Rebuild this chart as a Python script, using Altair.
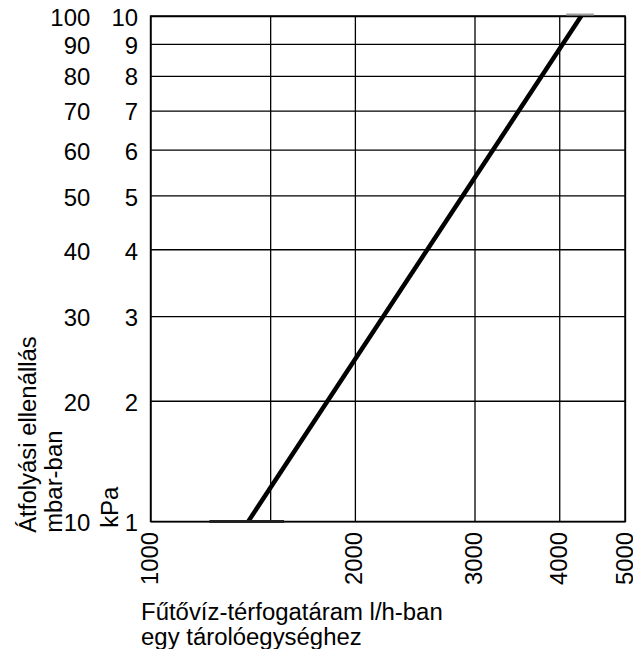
import altair as alt
import pandas as pd

# ---- data ----
flow_lh = [1393, 4310]          # x: heating-water flow, l/h
drop_mbar = [10, 100]           # y: pressure drop, mbar
y_ticks = [10, 20, 30, 40, 50, 60, 70, 80, 90, 100]
x_ticks = [1000, 1500, 2000, 3000, 4000, 5000]
x_title = ["Fűtővíz-térfogatáram l/h-ban", "egy tárolóegységhez"]
y_title_mbar = ["Átfolyási ellenállás", "mbar-ban"]
y_title_kpa = "kPa"
# small stray segments along the frame in the original drawing
seg_bottom_x = [1221, 1573]
seg_bottom_y = [10]
seg_top_x = [4095, 4500]
seg_top_y = [100]

FONT = "Liberation Sans"
FS = 24

line_df = pd.DataFrame({"flow": flow_lh, "drop": drop_mbar})
segb_df = pd.DataFrame({"flow": [seg_bottom_x[0]], "flow2": [seg_bottom_x[1]], "drop": seg_bottom_y})
segt_df = pd.DataFrame({"flow": [seg_top_x[0]], "flow2": [seg_top_x[1]], "drop": seg_top_y})

x_scale = alt.Scale(type="log", domain=[1000, 5000], nice=False)
y_scale = alt.Scale(type="symlog", constant=10, domain=[10, 100], nice=False, zero=False)

common = dict(
    labelFont=FONT, labelFontSize=FS, labelColor="black",
    titleFont=FONT, titleFontSize=FS, titleColor="black", titleFontWeight="normal",
    ticks=False, tickSize=0, domain=False, labelFlush=False, labelOverlap=False,
)

x_axis = alt.Axis(
    values=x_ticks,
    labelExpr="datum.value == 1500 ? '' : format(datum.value, 'd')",
    labelAngle=270, labelPadding=10,
    grid=True, gridColor="black", gridWidth=1.3, gridOpacity=1,
    title=x_title, titleX=-10, titleY=98, titleAlign="left",
    titleBaseline="alphabetic", titleLineHeight=26,
    **common,
)
x_enc = alt.X("flow:Q", scale=x_scale, axis=x_axis)

kpa_axis = alt.Axis(
    values=y_ticks, orient="left",
    labelExpr="format(datum.value / 10, 'd')",
    labelPadding=13, labelOffset=2.5,
    grid=True, gridColor="black", gridWidth=1.3, gridOpacity=1,
    title=y_title_kpa, titleX=-33, titleY=513, titleAngle=270,
    titleAlign="left", titleBaseline="alphabetic",
    **common,
)
mbar_axis = alt.Axis(
    values=y_ticks, orient="left",
    labelPadding=61, labelOffset=2.5, grid=False,
    title=y_title_mbar, titleX=-115, titleY=518, titleAngle=270,
    titleAlign="left", titleBaseline="alphabetic", titleLineHeight=26,
    **common,
)

line_kpa = alt.Chart(line_df).mark_line(color="black", strokeWidth=4.5).encode(
    x=x_enc,
    y=alt.Y("drop:Q", scale=y_scale, axis=kpa_axis),
)
line_mbar = alt.Chart(line_df).mark_line(color="black", strokeWidth=4.5, strokeOpacity=0).encode(
    x=x_enc,
    y=alt.Y("drop:Q", scale=y_scale, axis=mbar_axis),
)
seg_bottom = alt.Chart(segb_df).mark_rule(color="#222222", strokeWidth=3).encode(
    x=x_enc,
    x2="flow2:Q",
    y=alt.Y("drop:Q", scale=y_scale, axis=None),
)
seg_top = alt.Chart(segt_df).mark_rule(color="#a0a0a0", strokeWidth=2, yOffset=-1.5).encode(
    x=x_enc,
    x2="flow2:Q",
    y=alt.Y("drop:Q", scale=y_scale, axis=None),
)

chart = (
    alt.layer(line_kpa, line_mbar, seg_bottom, seg_top)
    .resolve_scale(y="shared", x="shared")
    .resolve_axis(y="independent")
    .properties(
        width=476, height=507,
        autosize=alt.AutoSizeParams(type="none"),
        padding={"left": 143, "top": 7, "right": 8, "bottom": 127},
        background="white",
    )
    .configure_view(stroke="black", strokeWidth=1.5)
)

chart.save("out.html", embed_options={"renderer": "svg", "actions": False})
